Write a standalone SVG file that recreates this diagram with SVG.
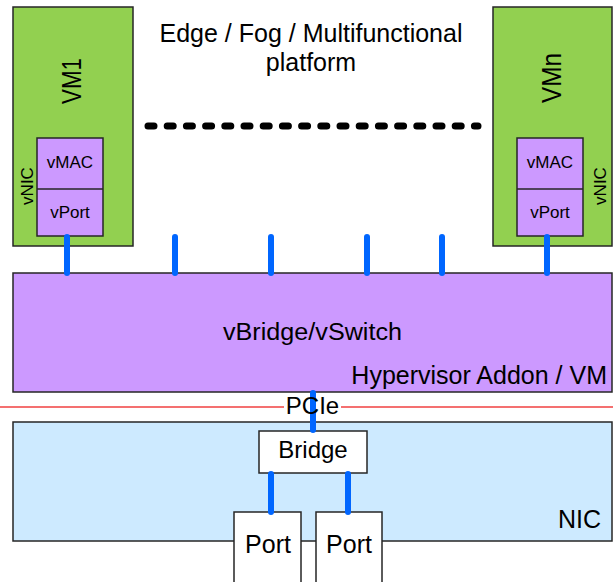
<svg xmlns="http://www.w3.org/2000/svg" width="613" height="582" viewBox="0 0 613 582">
<style>
text{font-family:"Liberation Sans",Arial,sans-serif;fill:#000}
.box{stroke:#262626;stroke-width:1.5}
.vm{fill:#92d050}
.pu{fill:#cc99ff}
.nic{fill:#cdeaff}
.wh{fill:#ffffff}
.c{text-anchor:middle}
.e{text-anchor:end}
.conn{stroke:#0066ff;stroke-width:6;stroke-linecap:round;fill:none}
</style>
<rect x="0" y="0" width="613" height="582" fill="#ffffff"/>
<g id="title">
<text class="c" x="311" y="42" font-size="25">Edge / Fog / Multifunctional</text>
<text class="c" x="311" y="71" font-size="25">platform</text>
</g>
<line id="ellipsis" x1="148" y1="126" x2="478" y2="126" stroke="#000" stroke-width="7" stroke-linecap="round" stroke-dasharray="6 13.2"/>
<g id="vm1">
<rect class="box vm" x="13" y="7" width="120" height="239"/>
<text class="c" transform="translate(81,81) rotate(-90)" font-size="27" textLength="46" lengthAdjust="spacingAndGlyphs">VM1</text>
<rect class="box pu" x="37" y="138" width="66" height="98"/>
<line x1="37" y1="189" x2="103" y2="189" stroke="#262626" stroke-width="1.5"/>
<text class="c" x="70" y="168" font-size="17">vMAC</text>
<text class="c" x="70" y="218" font-size="17">vPort</text>
<text class="c" transform="translate(33,186) rotate(-90)" font-size="17">vNIC</text>
</g>
<g id="vmn">
<rect class="box vm" x="493" y="7" width="119" height="239"/>
<text class="c" transform="translate(561,78) rotate(-90)" font-size="27" textLength="50" lengthAdjust="spacingAndGlyphs">VMn</text>
<rect class="box pu" x="517" y="138" width="66" height="98"/>
<line x1="517" y1="189" x2="583" y2="189" stroke="#262626" stroke-width="1.5"/>
<text class="c" x="550" y="168" font-size="17">vMAC</text>
<text class="c" x="550" y="218" font-size="17">vPort</text>
<text class="c" transform="translate(606,186) rotate(-90)" font-size="17">vNIC</text>
</g>
<g id="vswitch">
<rect class="box pu" x="13" y="273" width="599" height="119"/>
<text class="c" x="312.5" y="340" font-size="23" textLength="179" lengthAdjust="spacingAndGlyphs">vBridge/vSwitch</text>
<text class="e" x="607" y="384" font-size="25">Hypervisor Addon / VM</text>
</g>
<g id="pcie-boundary">
<line x1="0" y1="407" x2="613" y2="407" stroke="#f04040" stroke-width="1.5"/>
<rect x="284" y="399" width="57" height="17" fill="#ffffff"/>
</g>
<g id="nic">
<rect class="box nic" x="13" y="422" width="599" height="119"/>
<text class="e" x="601" y="528" font-size="25">NIC</text>
</g>
<g id="bridge">
<rect class="box wh" x="259" y="431" width="108" height="42"/>
<text class="c" x="313" y="458" font-size="24">Bridge</text>
</g>
<g id="port1">
<rect class="box wh" x="234" y="512" width="67" height="80"/>
<text class="c" x="268" y="553" font-size="25">Port</text>
</g>
<g id="port2">
<rect class="box wh" x="316" y="512" width="66" height="80"/>
<text class="c" x="349" y="553" font-size="25">Port</text>
</g>
<g id="connectors">
<line class="conn" x1="67" y1="237" x2="67" y2="273"/>
<line class="conn" x1="175" y1="237" x2="175" y2="273"/>
<line class="conn" x1="271" y1="237" x2="271" y2="273"/>
<line class="conn" x1="367" y1="237" x2="367" y2="273"/>
<line class="conn" x1="442" y1="237" x2="442" y2="273"/>
<line class="conn" x1="547" y1="237" x2="547" y2="273"/>
<line class="conn" x1="313" y1="393" x2="313" y2="430"/>
<line class="conn" x1="271" y1="474" x2="271" y2="512"/>
<line class="conn" x1="348" y1="474" x2="348" y2="512"/>
</g>
<text id="pcie-label" class="c" x="312.5" y="414" font-size="24">PCIe</text>
</svg>
